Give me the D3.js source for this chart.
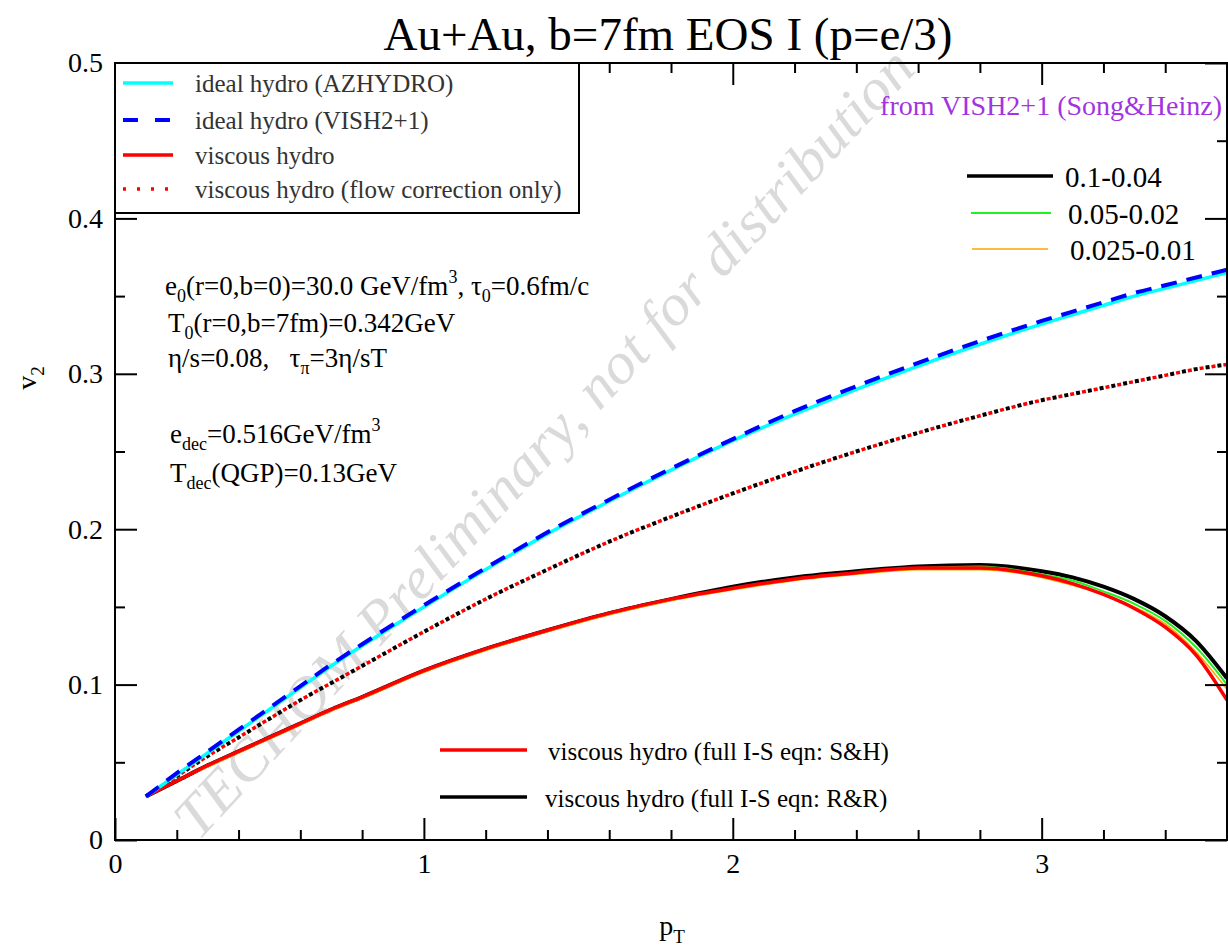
<!DOCTYPE html>
<html>
<head>
<meta charset="utf-8">
<script src="https://cdn.jsdelivr.net/npm/d3@7"></script>
<style>
body { margin: 0; background: #fff; }
text { font-family: "Liberation Serif", "Times New Roman", serif; }
</style>
</head>
<body>
<svg width="1228" height="947"></svg>
<script>
// pT grid shared by every curve
var pt = [0.1, 0.2, 0.3, 0.4, 0.5, 0.6, 0.7, 0.8, 1.0, 1.2, 1.4, 1.6, 1.8, 2.0,
          2.2, 2.4, 2.6, 2.8, 3.0, 3.1, 3.2, 3.3, 3.4, 3.5, 3.6];

// v2 values
var idealAz   = [0.028, 0.042, 0.056, 0.070, 0.084, 0.098, 0.112, 0.125, 0.150, 0.174, 0.197, 0.218, 0.238, 0.257,
                 0.274, 0.290, 0.305, 0.319, 0.332, 0.338, 0.344, 0.350, 0.355, 0.360, 0.365];
var idealVish = [0.028, 0.043, 0.057, 0.071, 0.085, 0.099, 0.113, 0.126, 0.151, 0.175, 0.198, 0.219, 0.239, 0.258,
                 0.276, 0.292, 0.307, 0.321, 0.334, 0.340, 0.346, 0.352, 0.357, 0.362, 0.367];
var flowOnly  = [0.028, 0.041, 0.054, 0.066, 0.078, 0.090, 0.101, 0.112, 0.134, 0.155, 0.174, 0.192, 0.208, 0.223,
                 0.237, 0.250, 0.262, 0.273, 0.283, 0.287, 0.291, 0.295, 0.299, 0.303, 0.306];
var fullSH    = [0.028, 0.038, 0.048, 0.057, 0.066, 0.075, 0.084, 0.092, 0.109, 0.123, 0.135, 0.146, 0.155, 0.162,
                 0.168, 0.172, 0.175, 0.175, 0.170, 0.165, 0.158, 0.149, 0.137, 0.119, 0.090];
var fullRR    = [0.028, 0.038, 0.048, 0.057, 0.066, 0.075, 0.084, 0.092, 0.109, 0.123, 0.135, 0.146, 0.155, 0.163,
                 0.169, 0.173, 0.176, 0.177, 0.173, 0.169, 0.163, 0.155, 0.144, 0.128, 0.104];
var fullMid   = [0.028, 0.038, 0.048, 0.057, 0.066, 0.075, 0.084, 0.092, 0.109, 0.123, 0.135, 0.146, 0.155, 0.162,
                 0.168, 0.172, 0.175, 0.176, 0.171, 0.167, 0.160, 0.152, 0.141, 0.124, 0.100];
var fullFine  = [0.028, 0.038, 0.047, 0.056, 0.065, 0.074, 0.083, 0.091, 0.108, 0.122, 0.134, 0.145, 0.154, 0.161,
                 0.167, 0.171, 0.174, 0.174, 0.169, 0.164, 0.158, 0.150, 0.139, 0.121, 0.097];

var xTicks = [0, 1, 2, 3];
var yTicks = [0, 0.1, 0.2, 0.3, 0.4, 0.5];
var xMinor = [0.2, 0.4, 0.6, 0.8, 1.2, 1.4, 1.6, 1.8, 2.2, 2.4, 2.6, 2.8, 3.2, 3.4];
var yMinor = [0.05, 0.15, 0.25, 0.35, 0.45];

var serif = "'Liberation Serif', 'Times New Roman', serif";
var svg = d3.select("svg");

var x = d3.scaleLinear().domain([0, 3.6]).range([115, 1227]);
var y = d3.scaleLinear().domain([0, 0.5]).range([840, 63]);

svg.append("defs").append("clipPath").attr("id", "plot")
  .append("rect")
  .attr("x", x(0)).attr("y", y(0.5))
  .attr("width", x(3.6) - x(0)).attr("height", y(0) - y(0.5));

// watermark
svg.append("text")
  .attr("transform", "translate(198,842) rotate(-47)")
  .attr("font-size", 58)
  .attr("font-style", "italic")
  .attr("fill", "#dadada")
  .attr("textLength", 1055)
  .attr("lengthAdjust", "spacingAndGlyphs")
  .text("TECHQM Preliminary, not for distribution");

// curves
var curves = svg.append("g").attr("clip-path", "url(#plot)");

function series(vals) {
  return pt.map(function(p, i) { return [p, vals[i]]; });
}

var line = d3.line()
  .x(function(d) { return x(d[0]); })
  .y(function(d) { return y(d[1]); })
  .curve(d3.curveMonotoneX);

function draw(vals, color, width, dash, offset) {
  curves.append("path")
    .datum(series(vals))
    .attr("d", line)
    .attr("fill", "none")
    .attr("stroke", color)
    .attr("stroke-width", width)
    .attr("stroke-dasharray", dash || null)
    .attr("stroke-dashoffset", offset || 0);
}

draw(flowOnly, "#000", 4, "4,8", 0);
draw(flowOnly, "#ff0000", 3.5, "4,8", 6);
draw(fullRR, "#000", 4);
draw(fullMid, "#22ee22", 2);
draw(fullFine, "#ffa500", 1.6);
draw(fullSH, "#ff0000", 3.5);
draw(idealAz, "#00ffff", 3.5);
draw(idealVish, "#0000ff", 4, "16,10");

// axes: ticks point inward
function axisG(axis, tx, ty) {
  var g = svg.append("g")
    .attr("transform", "translate(" + tx + "," + ty + ")")
    .call(axis);
  g.attr("font-family", serif);
  g.select(".domain").remove();
  g.selectAll("line").attr("stroke", "#000").attr("stroke-width", 2);
  g.selectAll("text").attr("font-size", 28).attr("fill", "#000")
    .style("font-family", serif);
  return g;
}

var fmt = function(d) { return d === 0 ? "0" : d3.format(".1f")(d); };

axisG(d3.axisLeft(y).tickValues(yTicks).tickSize(-22).tickPadding(12).tickFormat(fmt), x(0), 0);
axisG(d3.axisLeft(y).tickValues(yMinor).tickSize(-10).tickFormat(""), x(0), 0);
axisG(d3.axisRight(y).tickValues(yTicks).tickSize(-22).tickFormat(""), x(3.6), 0);
axisG(d3.axisRight(y).tickValues(yMinor).tickSize(-10).tickFormat(""), x(3.6), 0);
axisG(d3.axisBottom(x).tickValues(xTicks).tickSize(-22).tickPadding(13).tickFormat(d3.format("d")), 0, y(0));
axisG(d3.axisBottom(x).tickValues(xMinor).tickSize(-10).tickFormat(""), 0, y(0));
axisG(d3.axisTop(x).tickValues(xTicks).tickSize(-22).tickFormat(""), 0, y(0.5));
axisG(d3.axisTop(x).tickValues(xMinor).tickSize(-10).tickFormat(""), 0, y(0.5));

// frame
svg.append("rect")
  .attr("x", x(0)).attr("y", y(0.5))
  .attr("width", x(3.6) - x(0)).attr("height", y(0) - y(0.5))
  .attr("fill", "none").attr("stroke", "#000").attr("stroke-width", 2);

// title and axis labels
svg.append("text")
  .attr("x", 668).attr("y", 50)
  .attr("text-anchor", "middle")
  .attr("font-size", 47)
  .text("Au+Au, b=7fm EOS I (p=e/3)");

var xl = svg.append("text")
  .attr("x", 672).attr("y", 935)
  .attr("text-anchor", "middle")
  .attr("font-size", 28);
xl.append("tspan").text("p");
xl.append("tspan").attr("font-size", 19).attr("dy", 8).text("T");

var yl = svg.append("text")
  .attr("transform", "translate(36,378) rotate(-90)")
  .attr("text-anchor", "middle")
  .attr("font-size", 28);
yl.append("tspan").text("v");
yl.append("tspan").attr("font-size", 19).attr("dy", 8).text("2");

// top-left legend
var leg = svg.append("g");
leg.append("rect")
  .attr("x", 115).attr("y", 63).attr("width", 464).attr("height", 150)
  .attr("fill", "#fff").attr("stroke", "#000").attr("stroke-width", 2);

var legItems = [
  { label: "ideal hydro (AZHYDRO)", color: "#00ffff", width: 3.5, dash: null, ly: 83 },
  { label: "ideal hydro (VISH2+1)", color: "#0000ff", width: 4, dash: "15,17", ly: 120 },
  { label: "viscous hydro", color: "#ff0000", width: 3.5, dash: null, ly: 155 },
  { label: "viscous hydro (flow correction only)", color: "#ff0000", width: 3.5, dash: "3,11", ly: 189 }
];
legItems.forEach(function(d) {
  leg.append("line")
    .attr("x1", 123).attr("x2", 173).attr("y1", d.ly).attr("y2", d.ly)
    .attr("stroke", d.color).attr("stroke-width", d.width)
    .attr("stroke-dasharray", d.dash);
  leg.append("text")
    .attr("x", 195).attr("y", d.ly + 9)
    .attr("font-size", 25).attr("fill", "#333")
    .text(d.label);
});

// source note
svg.append("text")
  .attr("x", 1222).attr("y", 115)
  .attr("text-anchor", "end")
  .attr("font-size", 28)
  .attr("fill", "#a234e0")
  .text("from VISH2+1 (Song&Heinz)");

// right legend
var steps = [
  { label: "0.1-0.04", color: "#000", width: 3.5, x1: 967, x2: 1053, ly: 176, tx: 1065 },
  { label: "0.05-0.02", color: "#22ee22", width: 2, x1: 971, x2: 1051, ly: 213, tx: 1068 },
  { label: "0.025-0.01", color: "#ffa500", width: 1.6, x1: 972, x2: 1048, ly: 249, tx: 1070 }
];
steps.forEach(function(d) {
  svg.append("line")
    .attr("x1", d.x1).attr("x2", d.x2).attr("y1", d.ly).attr("y2", d.ly)
    .attr("stroke", d.color).attr("stroke-width", d.width);
  svg.append("text")
    .attr("x", d.tx).attr("y", d.ly + 11)
    .attr("font-size", 29)
    .text(d.label);
});

// bottom legend
var full = [
  { label: "viscous hydro (full I-S eqn: S&H)", color: "#ff0000", ly: 750, tx: 548 },
  { label: "viscous hydro (full I-S eqn: R&R)", color: "#000", ly: 797, tx: 545 }
];
full.forEach(function(d) {
  svg.append("line")
    .attr("x1", 440).attr("x2", 527).attr("y1", d.ly).attr("y2", d.ly)
    .attr("stroke", d.color).attr("stroke-width", 3.5);
  svg.append("text")
    .attr("x", d.tx).attr("y", d.ly + 10)
    .attr("font-size", 25)
    .text(d.label);
});

// parameter notes, pieces are [text, shift] with shift: 0 normal, 1 sub, -1 sup
var notes = [
  { x: 165, y: 295, parts: [["e", 0], ["0", 1], ["(r=0,b=0)=30.0 GeV/fm", 0], ["3", -1], [", \u03c4", 0], ["0", 1], ["=0.6fm/c", 0]] },
  { x: 168, y: 332, parts: [["T", 0], ["0", 1], ["(r=0,b=7fm)=0.342GeV", 0]] },
  { x: 168, y: 367, parts: [["\u03b7/s=0.08,   \u03c4", 0], ["\u03c0", 1], ["=3\u03b7/sT", 0]] },
  { x: 170, y: 443, parts: [["e", 0], ["dec", 1], ["=0.516GeV/fm", 0], ["3", -1]] },
  { x: 170, y: 482, parts: [["T", 0], ["dec", 1], ["(QGP)=0.13GeV", 0]] }
];
notes.forEach(function(n) {
  var t = svg.append("text")
    .attr("x", n.x).attr("y", n.y)
    .attr("font-size", 27)
    .style("white-space", "pre");
  n.parts.forEach(function(p) {
    var s = t.append("tspan").text(p[0]);
    if (p[1] === 1) s.attr("font-size", 18).attr("baseline-shift", -7);
    if (p[1] === -1) s.attr("font-size", 18).attr("baseline-shift", 12);
  });
});
</script>
</body>
</html>
